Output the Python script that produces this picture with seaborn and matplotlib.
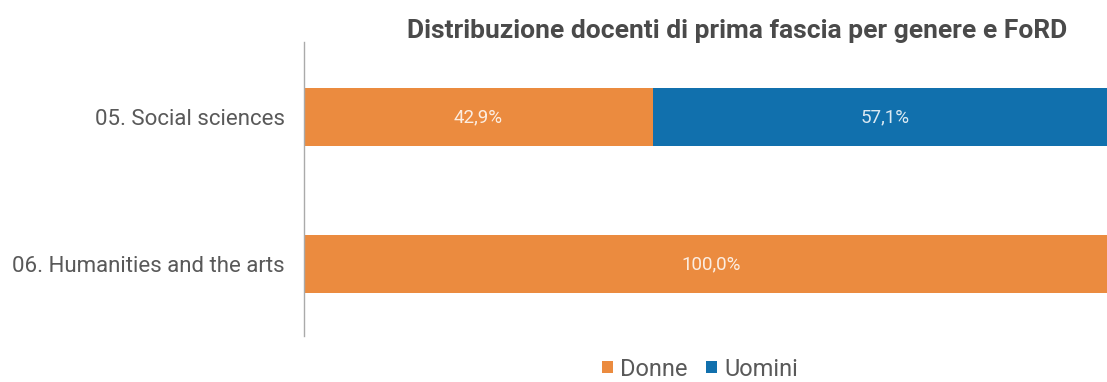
import matplotlib
matplotlib.use("Agg")
import matplotlib.pyplot as plt
import seaborn as sns
import pandas as pd
from matplotlib.patches import Patch

categories = ["05. Social sciences", "06. Humanities and the arts"]
donne = [42.9, 100.0]
uomini = [57.1, 0.0]
series_names = ["Donne", "Uomini"]
title = "Distribuzione docenti di prima fascia per genere e FoRD"

ORANGE = "#EB8B3F"
BLUE = "#1170AD"
TEXT = "#595959"
TITLE = "#4A4A4A"

sns.set_theme(style="white")
plt.rcParams["font.family"] = ["Roboto", "DejaVu Sans"]

df = pd.DataFrame({"cat": categories, "donne": donne, "uomini": uomini})
df["totale"] = df["donne"] + df["uomini"]

fig = plt.figure(figsize=(11.07, 3.82), dpi=100)
ax = fig.add_axes([304 / 1107, 46 / 382, (1118 - 304) / 1107, 294 / 382])

# stacked bars: total first (Uomini colour), Donne over it
sns.barplot(data=df, x="totale", y="cat", color=BLUE, width=0.4, ax=ax,
            saturation=1, orient="h", linewidth=0)
sns.barplot(data=df, x="donne", y="cat", color=ORANGE, width=0.4, ax=ax,
            saturation=1, orient="h", linewidth=0)

ax.set_xlim(0, 100)
ax.set_ylim(1.49, -0.51)

for i, (d, u) in enumerate(zip(donne, uomini)):
    if d > 0:
        ax.text(d / 2, i, f"{d:.1f}%".replace(".", ","), ha="center", va="center",
                color="white", fontsize=13.5, alpha=0.85)
    if u > 0:
        ax.text(d + u / 2, i, f"{u:.1f}%".replace(".", ","), ha="center", va="center",
                color="white", fontsize=13.5, alpha=0.85)

ax.set_xlabel("")
ax.set_ylabel("")
ax.set_xticks([])
ax.tick_params(axis="y", length=0, pad=14, labelsize=16, labelcolor=TEXT)
for s in ["top", "right", "bottom"]:
    ax.spines[s].set_visible(False)
ax.spines["left"].set_color("#AAAAAA")
ax.spines["left"].set_linewidth(1.0)

fig.text(737 / 1107, 1 - 31 / 382, title, ha="center", va="center",
         fontsize=19, fontweight="bold", color=TITLE)

handles = [Patch(facecolor=ORANGE, edgecolor="none"),
           Patch(facecolor=BLUE, edgecolor="none")]
fig.legend(handles, series_names, loc="center", bbox_to_anchor=(700 / 1107, 1 - 369 / 382),
           ncol=2, frameon=False, fontsize=17, labelcolor=TEXT,
           handlelength=0.45, handleheight=0.45, handletextpad=0.3, columnspacing=0.8,
           borderpad=0)

fig.savefig("out.png", dpi=100, facecolor="white")
